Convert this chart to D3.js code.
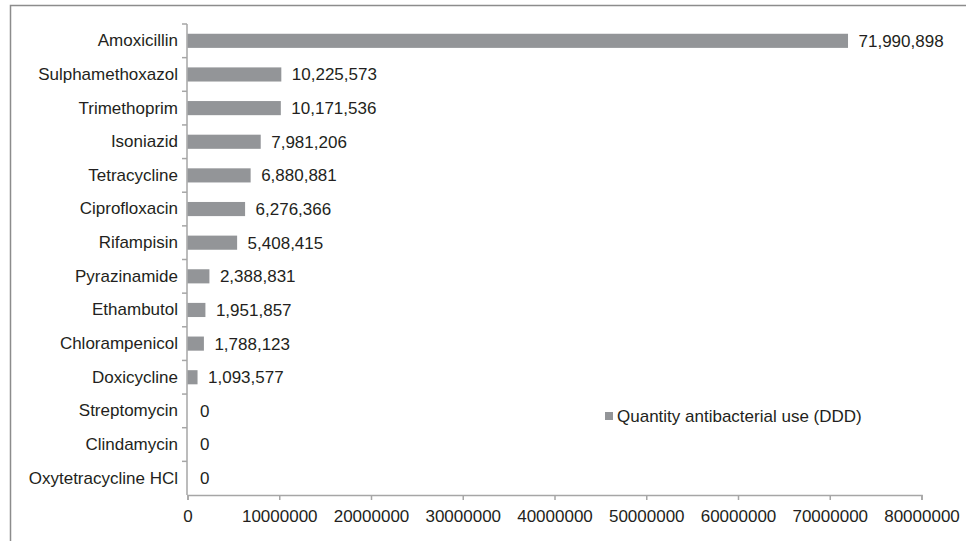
<!DOCTYPE html>
<html>
<head>
<meta charset="utf-8">
<script src="https://cdn.jsdelivr.net/npm/d3@7"></script>
<style>
	body { margin: 0; background: #fff; }
	text { font-family: "Liberation Sans", Arial, sans-serif; fill: #231f20; }
</style>
</head>
<body>
<div id="chart"></div>
<script>
// antibacterial use, DDD
var drugs = ["Amoxicillin", "Sulphamethoxazol", "Trimethoprim", "Isoniazid", "Tetracycline",
	"Ciprofloxacin", "Rifampisin", "Pyrazinamide", "Ethambutol", "Chlorampenicol",
	"Doxicycline", "Streptomycin", "Clindamycin", "Oxytetracycline HCl"];
var ddd = [71990898, 10225573, 10171536, 7981206, 6880881,
	6276366, 5408415, 2388831, 1951857, 1788123,
	1093577, 0, 0, 0];
var xTicks = [0, 10000000, 20000000, 30000000, 40000000, 50000000, 60000000, 70000000, 80000000];
var legendLabel = "Quantity antibacterial use (DDD)";

var width = 966, height = 541;
var fs = "17px";

var data = drugs.map(function(d, i){ return {name: d, value: ddd[i]}; });

var svg = d3.select("#chart").append("svg")
	.attr("width", width)
	.attr("height", height);

// outer frame (cropped excel chart border)
svg.append("path")
	.attr("d", "M10.5," + height + "V5.5H" + width)
	.attr("fill", "none")
	.attr("stroke", "#8c8c8c")
	.attr("stroke-width", 1.5);

var x = d3.scaleLinear().domain([0, 80000000]).range([187.5, 921.5]);
var y = d3.scaleBand().domain(drugs).range([24, 495]).padding(0);
var barH = y.bandwidth() * 0.42;

// x axis
var xAxis = d3.axisBottom(x)
	.tickValues(xTicks)
	.tickSize(5)
	.tickPadding(10)
	.tickFormat(d3.format("d"));

var gx = svg.append("g")
	.attr("transform", "translate(0,495)")
	.call(xAxis);
gx.select(".domain").attr("stroke", "#a6a6a6").attr("stroke-width", 1.5);
gx.selectAll(".tick line").attr("stroke", "#a6a6a6").attr("stroke-width", 1.5);
gx.selectAll("text").style("font-size", fs).attr("fill", "#231f20");

// y axis: labels at band centres, ticks at band boundaries
var yAxis = d3.axisLeft(y).tickSize(0).tickPadding(9);
var gy = svg.append("g")
	.attr("transform", "translate(187,0)")
	.call(yAxis);
gy.select(".domain").remove();
gy.selectAll("text").style("font-size", fs).attr("fill", "#231f20");

svg.append("line")
	.attr("x1", 187).attr("x2", 187)
	.attr("y1", 24).attr("y2", 495)
	.attr("stroke", "#a6a6a6")
	.attr("stroke-width", 1.5);

svg.selectAll(".ytick")
	.data(drugs)
	.enter().append("line")
	.attr("class", "ytick")
	.attr("x1", 182).attr("x2", 187)
	.attr("y1", function(d){ return y(d); })
	.attr("y2", function(d){ return y(d); })
	.attr("stroke", "#a6a6a6")
	.attr("stroke-width", 1.5);

// bars
svg.selectAll(".bar")
	.data(data)
	.enter().append("rect")
	.attr("class", "bar")
	.attr("x", x(0))
	.attr("y", function(d){ return y(d.name) + (y.bandwidth() - barH) / 2; })
	.attr("width", function(d){ return x(d.value) - x(0); })
	.attr("height", barH)
	.attr("fill", "#939598");

// value labels
svg.selectAll(".val")
	.data(data)
	.enter().append("text")
	.attr("class", "val")
	.attr("x", function(d){ return x(d.value) + (d.value > 0 ? 10.5 : 12.5); })
	.attr("y", function(d){ return y(d.name) + y.bandwidth() / 2; })
	.attr("dy", "0.35em")
	.style("font-size", fs)
	.text(function(d){ return d3.format(",")(d.value); });

// legend
var lg = svg.append("g").attr("transform", "translate(605,412)");
lg.append("rect")
	.attr("width", 8).attr("height", 8)
	.attr("fill", "#939598");
lg.append("text")
	.attr("x", 12)
	.attr("y", 4)
	.attr("dy", "0.35em")
	.style("font-size", fs)
	.text(legendLabel);
</script>
</body>
</html>
